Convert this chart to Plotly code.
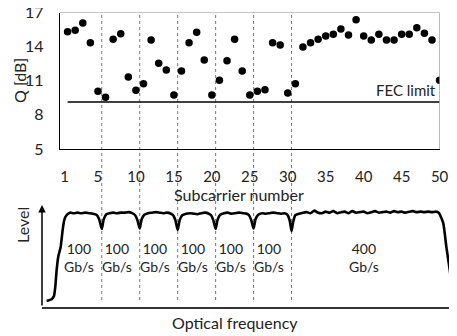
import plotly.graph_objects as go

# ---- data ----
subcarrier = list(range(1, 51))
q_db = [15.31, 15.43, 16.08, 14.35, 10.07, 9.55, 14.64, 15.14, 11.33, 10.16,
        10.74, 14.58, 12.53, 11.95, 9.75, 11.86, 14.35, 15.26, 12.82, 9.75,
        11.04, 12.76, 14.64, 11.86, 9.75, 10.07, 10.21, 14.35, 14.14, 9.92,
        10.74, 13.97, 14.35, 14.64, 14.93, 15.08, 15.55, 15.02, 16.37, 14.93,
        14.58, 15.08, 14.58, 14.58, 15.08, 15.08, 15.66, 15.17, 14.58, 11.04]
fec_limit = 9.13
x_tick_vals = [0.6, 5, 10, 15, 20, 25, 30, 35, 40, 45, 50]
x_tick_text = ["1", "5", "10", "15", "20", "25", "30", "35", "40", "45", "50"]
y_tick_vals = [5, 8, 11, 14, 17]
boundaries = [5.5, 10.5, 15.5, 20.5, 25.5, 30.5]

spec_x = [-1.77, -1.11, -0.80, -0.63, -0.45, -0.24, 0.08, 0.34, 0.55, 0.87, 1.3,
          1.8, 2.3, 2.8, 3.3, 3.8, 4.3, 4.8, 5.15, 5.5, 5.75, 6.1, 6.5, 7.0, 7.5,
          8.0, 8.5, 9.0, 9.5, 9.9, 10.2, 10.5, 10.75, 11.1, 11.6, 12.1, 12.6, 13.1,
          13.6, 14.1, 14.6, 14.9, 15.2, 15.5, 15.75, 16.1, 16.6, 17.1, 17.6, 18.1,
          18.6, 19.1, 19.6, 19.9, 20.2, 20.5, 20.75, 21.1, 21.6, 22.1, 22.6, 23.1,
          23.6, 24.1, 24.6, 24.9, 25.2, 25.5, 25.75, 26.1, 26.6, 27.1, 27.6, 28.1,
          28.6, 29.1, 29.6, 29.95, 30.25, 30.5, 30.7, 31.0, 31.5, 32.0, 32.5, 33.0,
          33.5, 34.0, 34.5, 35.0, 35.5, 36.0, 36.5, 37.0, 37.5, 38.0, 38.5, 39.0,
          39.5, 40.0, 40.5, 41.0, 41.5, 42.0, 42.5, 43.0, 43.5, 44.0, 44.5, 45.0,
          45.5, 46.0, 46.5, 47.0, 47.5, 48.0, 48.5, 49.0, 49.5, 49.9, 50.2, 50.5,
          50.9, 51.4, 51.6, 51.9, 52.1]
spec_level = [0.062, 0.078, 0.11, 0.20, 0.365, 0.495, 0.59, 0.755, 0.853, 0.902, 0.925,
              0.92, 0.925, 0.92, 0.925, 0.92, 0.915, 0.905, 0.86, 0.765, 0.86, 0.91, 0.92,
              0.925, 0.92, 0.925, 0.925, 0.93, 0.92, 0.90, 0.85, 0.77, 0.86, 0.905, 0.92,
              0.925, 0.93, 0.925, 0.92, 0.925, 0.915, 0.90, 0.85, 0.755, 0.85, 0.90, 0.915,
              0.92, 0.915, 0.91, 0.92, 0.925, 0.915, 0.90, 0.85, 0.765, 0.855, 0.905, 0.92,
              0.925, 0.915, 0.92, 0.925, 0.92, 0.915, 0.90, 0.85, 0.77, 0.86, 0.905, 0.92,
              0.915, 0.92, 0.925, 0.92, 0.915, 0.92, 0.905, 0.85, 0.745, 0.83, 0.90, 0.915,
              0.925, 0.93, 0.92, 0.945, 0.925, 0.92, 0.935, 0.925, 0.94, 0.92, 0.93, 0.935,
              0.92, 0.94, 0.925, 0.93, 0.935, 0.92, 0.93, 0.94, 0.925, 0.93, 0.935, 0.925,
              0.94, 0.93, 0.935, 0.925, 0.935, 0.94, 0.93, 0.935, 0.93, 0.935, 0.93, 0.935,
              0.925, 0.88, 0.82, 0.59, 0.335, 0.17, 0.09, 0.07]
rate_labels = ["100<br>Gb/s"] * 6 + ["400<br>Gb/s"]
rate_label_x = [2.5, 7.5, 12.5, 17.5, 22.5, 27.5, 40.0]

# the page body adds an 8 px offset; the figure fills the rest of the window
OFF = 8
W, H = 457 - OFF, 336 - OFF
FONT = "Lato"
TXT = "#222222"

def px_x(p):
    return (p - OFF) / W

def px_y(p):
    return 1 - (p - OFF) / H

fig = go.Figure()

fig.add_trace(go.Scatter(x=subcarrier, y=q_db, mode="markers",
                         marker=dict(color="black", size=7.5),
                         xaxis="x", yaxis="y", showlegend=False))
fig.add_trace(go.Scatter(x=[1, 50], y=[fec_limit, fec_limit], mode="lines",
                         line=dict(color="black", width=1.3),
                         xaxis="x", yaxis="y", showlegend=False))
fig.add_trace(go.Scatter(x=spec_x, y=spec_level, mode="lines",
                         line=dict(color="black", width=2.6, shape="spline", smoothing=0.5),
                         xaxis="x2", yaxis="y2", showlegend=False))

top_x_dom = [px_x(60), px_x(439.6)]
top_y_dom = [px_y(149), px_y(12.5)]

fig.update_layout(
    width=W, height=H, margin=dict(l=0, r=0, t=0, b=0, pad=0, autoexpand=False),
    paper_bgcolor="white", plot_bgcolor="white",
    font=dict(family=FONT, size=15, color=TXT),
    xaxis=dict(domain=top_x_dom, range=[0, 50], anchor="y", automargin=False,
               tickvals=x_tick_vals, ticktext=x_tick_text, ticks="",
               showline=True, linecolor="black", linewidth=1.3,
               showgrid=False, zeroline=False, ticklabelstandoff=14,
               ticklabeloverflow="allow",
               tickfont=dict(size=15, family=FONT, color=TXT)),
    xaxis3=dict(domain=top_x_dom, range=[0, 50], anchor="y", overlaying="x",
                automargin=False,
                tickvals=subcarrier + [0], ticks="inside", ticklen=4, tickwidth=1,
                tickcolor="black", showticklabels=False, showline=False,
                showgrid=False, zeroline=False),
    xaxis4=dict(domain=top_x_dom, range=[0, 50], anchor="y", overlaying="x",
                automargin=False,
                tickvals=[0, 5, 10, 15, 20, 25, 30, 35, 40, 45, 50], ticks="outside",
                ticklen=4, tickwidth=1, tickcolor="black", showticklabels=False,
                showline=False, showgrid=False, zeroline=False),
    yaxis=dict(domain=top_y_dom, range=[5, 17], anchor="x", automargin=False,
               tickvals=y_tick_vals, ticks="", showline=True, linecolor="black",
               linewidth=1.3, showgrid=False, zeroline=False, ticklabelstandoff=12,
               ticklabeloverflow="allow",
               tickfont=dict(size=16, family=FONT, color=TXT)),
    xaxis2=dict(domain=[px_x(42), 1.0], range=[-2.38, 52.3], anchor="y2",
                automargin=False,
                showticklabels=False, ticks="", showline=True, linecolor="#333333",
                linewidth=1.5, showgrid=False, zeroline=False),
    yaxis2=dict(domain=[px_y(307.3), px_y(205)], range=[0, 1], anchor="x2",
                automargin=False,
                showticklabels=False, ticks="", showline=False, showgrid=False,
                zeroline=False),
)

fig.add_shape(type="line", xref="x", yref="y", x0=0, x1=50, y0=17, y1=17,
              line=dict(color="#8c8c8c", width=1.2))
fig.add_shape(type="line", xref="x", yref="y", x0=50, x1=50, y0=5, y1=17,
              line=dict(color="#8c8c8c", width=1.2))

for b in boundaries:
    fig.add_shape(type="line", xref="x", yref="paper", x0=b, x1=b,
                  y0=px_y(300), y1=px_y(12.5),
                  line=dict(color="#777777", width=1, dash="dot"), layer="below")

def label(text, x, y, angle=0, size=16):
    return dict(text=text, xref="paper", yref="paper", x=px_x(x), y=px_y(y),
                xanchor="center", yanchor="middle", textangle=angle,
                showarrow=False, font=dict(size=size, family=FONT, color=TXT))

annotations = [
    dict(text="FEC limit", xref="x", yref="y", x=50, y=fec_limit, xanchor="right",
         yanchor="bottom", xshift=-2, yshift=1, showarrow=False,
         font=dict(size=15, family=FONT, color=TXT)),
    label("Q [dB]", 20, 81, angle=-90),
    label("Subcarrier number", 239, 195),
    label("Level", 22, 225, angle=-90),
    label("Optical frequency", 235, 322),
    dict(text="", xref="x2", yref="y2", x=-2.38, y=1.0, ax=0, ay=102,
         showarrow=True, arrowhead=2, arrowsize=1, arrowwidth=1.5,
         arrowcolor="black", standoff=0, startstandoff=0),
]
for lbl, lx in zip(rate_labels, rate_label_x):
    annotations.append(dict(text=lbl, xref="x2", yref="y2", x=lx, y=0.49,
                            xanchor="center", yanchor="middle", showarrow=False,
                            font=dict(size=14, family=FONT, color=TXT)))
fig.update_layout(annotations=annotations)

fig.write_html("out.html")
